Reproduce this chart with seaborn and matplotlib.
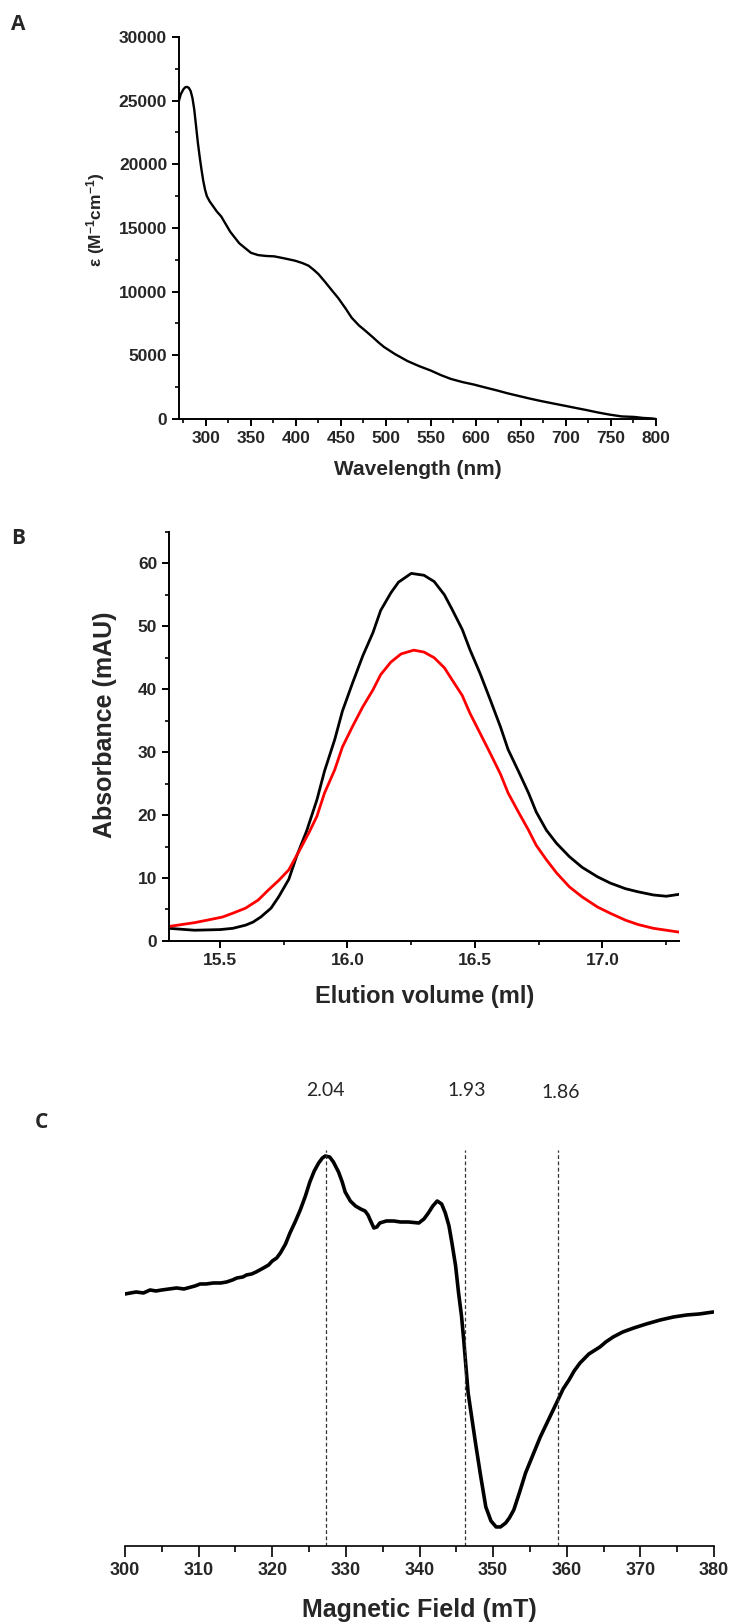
import numpy as np
import pandas as pd
import seaborn as sns
import matplotlib.pyplot as plt
from matplotlib.ticker import MultipleLocator

# ---- Panel A: UV-vis spectrum ----
wavelength = [270, 272, 275, 277, 279, 281, 283, 285, 287, 289, 291, 293, 295, 297, 299,
              301, 304, 308, 312, 317, 322, 327, 332, 337, 343, 350, 358, 367, 376, 388,
              399, 407, 414, 420, 425, 432, 440, 447, 455, 462, 470, 476, 485, 492, 498,
              510, 524, 537, 550, 561, 572, 585, 598, 610, 623, 635, 648, 660, 673, 685,
              698, 710, 723, 735, 748, 762, 776, 786, 796, 800]
epsilon = [25000, 25500, 25900, 26050, 26080, 26000, 25750, 25200, 24300, 23000, 21700,
           20600, 19600, 18700, 18000, 17500, 17100, 16700, 16300, 15900, 15300, 14700,
           14250, 13800, 13450, 13050, 12870, 12800, 12770, 12600, 12430, 12250, 12040,
           11700, 11380, 10800, 10100, 9500, 8700, 7950, 7350, 7000, 6450, 6000, 5650,
           5100, 4550, 4150, 3800, 3450, 3150, 2900, 2700, 2480, 2250, 2020, 1800, 1600,
           1400, 1230, 1050, 880, 700, 520, 350, 200, 160, 80, 40, 0]

# ---- Panel B: elution profiles ----
elution_black = [15.30, 15.40, 15.50, 15.55, 15.60, 15.63, 15.66, 15.70, 15.73, 15.77,
                 15.80, 15.84, 15.88, 15.91, 15.95, 15.98, 16.02, 16.06, 16.10, 16.13,
                 16.17, 16.20, 16.25, 16.30, 16.34, 16.38, 16.41, 16.45, 16.48, 16.52,
                 16.56, 16.60, 16.63, 16.67, 16.71, 16.74, 16.78, 16.82, 16.87, 16.92,
                 16.98, 17.03, 17.09, 17.14, 17.20, 17.25, 17.30]
absorb_black = [2.0, 1.7, 1.8, 2.0, 2.5, 3.0, 3.8, 5.2, 7.0, 9.8, 13.4, 17.5, 22.4, 27.0,
                32.0, 36.5, 41.0, 45.3, 49.0, 52.5, 55.3, 57.0, 58.4, 58.1, 57.1, 55.0,
                52.7, 49.5, 46.3, 42.5, 38.3, 34.0, 30.4, 27.0, 23.5, 20.5, 17.6, 15.5,
                13.4, 11.7, 10.2, 9.2, 8.3, 7.8, 7.3, 7.1, 7.4]
elution_red = [15.30, 15.40, 15.45, 15.51, 15.55, 15.60, 15.65, 15.69, 15.73, 15.77,
               15.82, 15.85, 15.88, 15.91, 15.95, 15.98, 16.02, 16.06, 16.10, 16.13,
               16.17, 16.21, 16.26, 16.30, 16.34, 16.38, 16.41, 16.45, 16.48, 16.52,
               16.56, 16.60, 16.63, 16.67, 16.71, 16.74, 16.78, 16.82, 16.87, 16.92,
               16.98, 17.03, 17.09, 17.14, 17.20, 17.25, 17.30]
absorb_red = [2.3, 2.9, 3.3, 3.8, 4.4, 5.2, 6.5, 8.1, 9.6, 11.3, 15.0, 17.3, 19.8, 23.5,
              27.2, 30.8, 34.1, 37.2, 39.9, 42.3, 44.3, 45.6, 46.2, 45.9, 45.0, 43.4, 41.5,
              39.0, 36.2, 33.0, 29.8, 26.5, 23.5, 20.5, 17.6, 15.2, 12.9, 10.8, 8.6, 7.0,
              5.4, 4.4, 3.3, 2.6, 2.0, 1.7, 1.4]

# ---- Panel C: EPR spectrum ----
field = [300.0, 301.5, 302.5, 303.4, 304.2, 305.0, 306.0, 307.0, 308.0, 308.5, 309.5,
         310.2, 311.0, 312.0, 313.0, 313.8, 314.6, 315.2, 316.0, 316.5, 317.2, 317.8,
         318.8, 319.5, 320.0, 320.6, 321.1, 321.8, 322.4, 323.1, 323.8, 324.5, 325.1,
         325.7, 326.3, 326.8, 327.2, 327.8, 328.3, 329.0, 329.5, 329.9, 330.6, 331.3,
         332.0, 332.6, 333.0, 333.3, 333.8, 334.2, 334.6, 335.5, 336.5, 337.4, 338.5,
         339.9, 340.6, 341.2, 341.8, 342.4, 343.0, 343.5, 344.0, 344.4, 344.9, 345.3,
         345.7, 346.0, 346.6, 347.1, 347.6, 348.3, 349.0, 349.7, 350.4, 351.0, 351.7,
         352.2, 352.8, 353.6, 354.4, 355.4, 356.4, 357.5, 358.8, 359.5, 360.3, 361.0,
         361.8, 363.0, 364.5, 365.3, 366.3, 367.6, 369.1, 370.8, 372.7, 374.5, 376.3,
         378.0, 379.9]
signal = [252, 254, 253, 256, 255, 256, 257, 258, 257, 258, 260, 262, 262, 263, 263,
          264, 266, 268, 269, 271, 272, 274, 278, 281, 285, 288, 293, 302, 313, 324,
          336, 350, 364, 375, 383, 388, 390, 389, 384, 374, 364, 354, 345, 340, 337,
          335, 331, 326, 318, 319, 323, 325, 325, 324, 324, 323, 327, 333, 340, 345,
          342, 333, 320, 303, 280, 253, 230, 206, 153, 128, 103, 70, 39, 25, 19, 19,
          23, 28, 36, 54, 73, 91, 109, 126, 146, 157, 166, 175, 183, 192, 199, 204,
          209, 214, 218, 222, 226, 229, 231, 232, 234]
g_values = ['2.04', '1.93', '1.86']
g_fields = [327.3, 346.2, 358.8]

sns.set_style('ticks')
plt.rcParams['font.family'] = ['Liberation Sans Narrow', 'Liberation Sans', 'DejaVu Sans']
plt.rcParams['font.weight'] = 'bold'
plt.rcParams['axes.labelweight'] = 'bold'
plt.rcParams['mathtext.fontset'] = 'custom'
plt.rcParams['mathtext.rm'] = 'Liberation Sans:bold'
plt.rcParams['mathtext.default'] = 'rm'

fig = plt.figure(figsize=(7.29, 16.22), dpi=100)
ax_a = fig.add_axes([0.2455, 0.7417, 0.654, 0.2355])
ax_b = fig.add_axes([0.2318, 0.4199, 0.6996, 0.2522])
ax_c = fig.add_axes([0.1715, 0.0469, 0.808, 0.2441])

# A
sns.lineplot(x=wavelength, y=epsilon, ax=ax_a, color='black', lw=1.7)
ax_a.set_xlim(270, 800)
ax_a.set_ylim(0, 30000)
ax_a.xaxis.set_major_locator(MultipleLocator(50))
ax_a.xaxis.set_minor_locator(MultipleLocator(25))
ax_a.yaxis.set_major_locator(MultipleLocator(5000))
ax_a.yaxis.set_minor_locator(MultipleLocator(2500))
ax_a.set_xlabel('Wavelength (nm)', fontsize=15, va='center', fontweight='bold')
ax_a.xaxis.set_label_coords(0.501, -0.1335)
ax_a.set_ylabel('ε (M$^{-1}$cm$^{-1}$)', fontsize=12.5, va='center', fontweight='bold',
                family=['Liberation Sans', 'DejaVu Sans'])
ax_a.yaxis.set_label_coords(-0.174, 0.521)

# B
sns.lineplot(x=elution_black, y=absorb_black, ax=ax_b, color='black', lw=2.0)
sns.lineplot(x=elution_red, y=absorb_red, ax=ax_b, color='#ff0000', lw=2.0)
ax_b.set_xlim(15.3, 17.3)
ax_b.set_ylim(0, 65)
ax_b.xaxis.set_major_locator(MultipleLocator(0.5))
ax_b.xaxis.set_minor_locator(MultipleLocator(0.25))
ax_b.yaxis.set_major_locator(MultipleLocator(10))
ax_b.yaxis.set_minor_locator(MultipleLocator(5))
ax_b.set_xticks([15.5, 16.0, 16.5, 17.0])
ax_b.set_xticklabels(['15.5', '16.0', '16.5', '17.0'])
ax_b.set_xlabel('Elution volume (ml)', fontsize=17, va='center', fontweight='bold')
ax_b.xaxis.set_label_coords(0.502, -0.137)
ax_b.set_ylabel('Absorbance (mAU)', fontsize=18, va='center', fontweight='bold',
                family=['Liberation Sans', 'DejaVu Sans'])
ax_b.yaxis.set_label_coords(-0.1255, 0.528)

for ax in (ax_a, ax_b):
    sns.despine(ax=ax)
    for s in ('left', 'bottom'):
        ax.spines[s].set_linewidth(1.4)
        ax.spines[s].set_color('black')
    ax.tick_params(which='major', length=5, width=1.4, labelsize=12.5, color='black')
    ax.tick_params(which='minor', length=3, width=1.2, color='black')

# C
sns.lineplot(x=field, y=signal, ax=ax_c, color='black', lw=2.6)
for gf in g_fields:
    ax_c.axvline(gf, color='#333333', lw=0.9, ls=(0, (3, 2)))
ax_c.set_xlim(300, 380)
ax_c.set_ylim(0, 396)
ax_c.xaxis.set_major_locator(MultipleLocator(10))
ax_c.xaxis.set_minor_locator(MultipleLocator(5))
ax_c.set_yticks([])
sns.despine(ax=ax_c, left=True)
ax_c.spines['bottom'].set_linewidth(1.2)
ax_c.spines['bottom'].set_color('black')
ax_c.tick_params(which='major', length=8, width=1.2, labelsize=13, color='black')
ax_c.tick_params(which='minor', length=4, width=1.2, color='black')
ax_c.set_xlabel('Magnetic Field (mT)', fontsize=18, va='center', fontweight='bold')
ax_c.xaxis.set_label_coords(0.499, -0.162)
ax_c.set_ylabel('')

# g-value labels above panel C
g_pos = [(325, 1090), (467, 1090), (561, 1093)]
for lab, (px, py) in zip(g_values, g_pos):
    fig.text(px / 729, 1 - py / 1622, lab, ha='center', va='center', fontsize=14,
             fontweight='normal', family=['Lato', 'DejaVu Sans'])

# panel letters
for lab, (px, py) in zip(['A', 'B', 'C'], [(18, 25), (18, 539), (41, 1123)]):
    fig.text(px / 729, 1 - py / 1622, lab, ha='center', va='center', fontsize=15,
             fontweight='bold', family=['Open Sans', 'DejaVu Sans'])

fig.savefig('out.png', dpi=100, facecolor='white')
